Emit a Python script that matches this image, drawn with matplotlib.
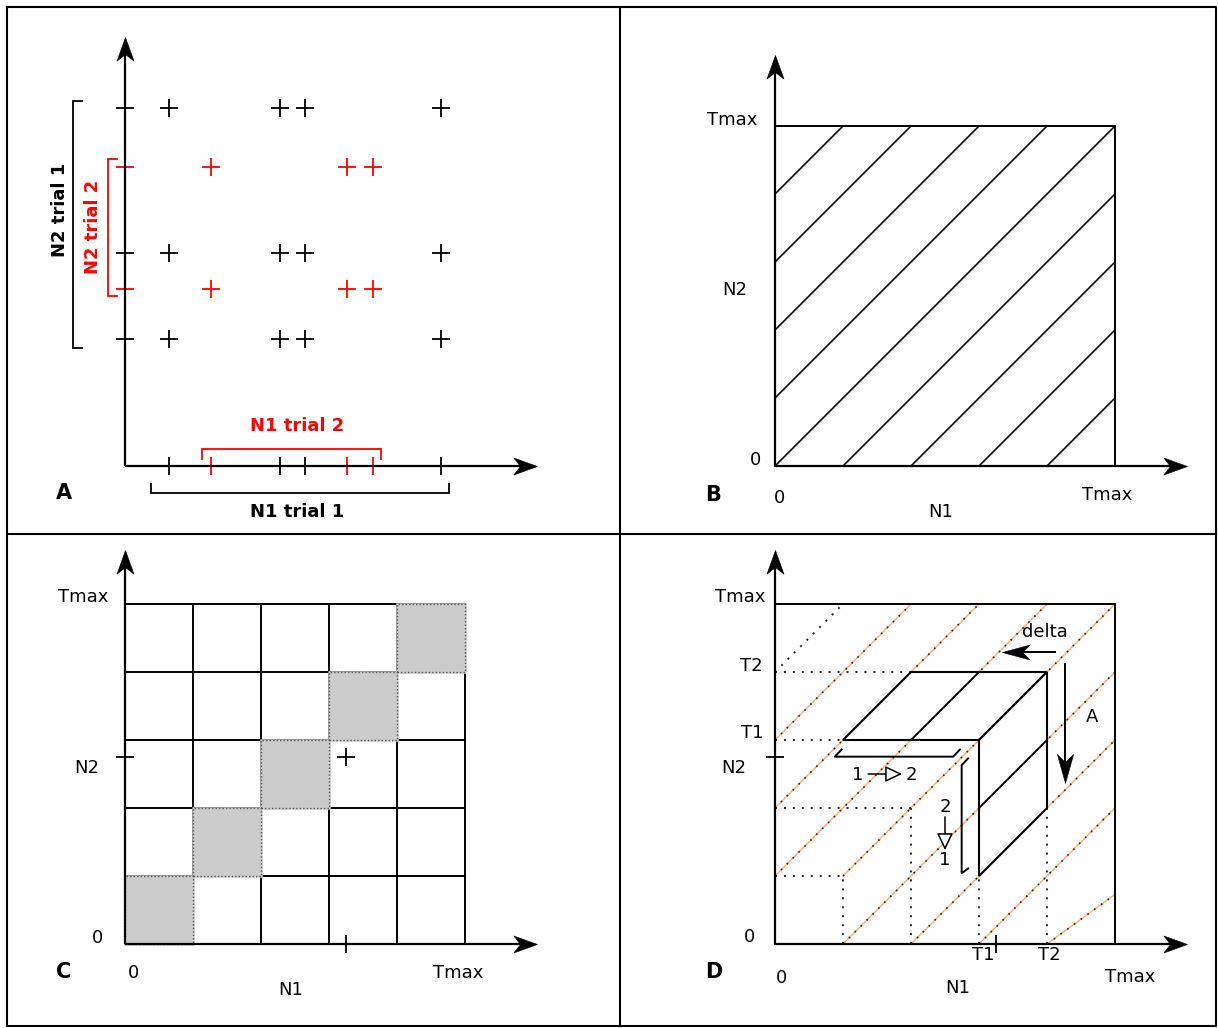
import numpy as np
import matplotlib
matplotlib.use("Agg")
import matplotlib.pyplot as plt
from matplotlib.path import Path
from matplotlib.markers import MarkerStyle
from matplotlib.transforms import Affine2D
from matplotlib.patches import Polygon, Rectangle
from matplotlib.lines import Line2D

plt.rcParams['font.family'] = ['DejaVu Sans']
plt.rcParams['font.size'] = 13

# ---------------- data ----------------
tmax = 5
bin_edges = [0, 1, 2, 3, 4, 5]

# panel A: two trials of spike times for N1 (columns) and N2 (rows)
trial1_n1 = [0.64, 2.28, 2.64, 4.65]
trial1_n2 = [1.87, 3.13, 5.26]
trial2_n1 = [1.27, 3.26, 3.64]
trial2_n2 = [2.61, 4.40]
# brackets: (start, end) span of each trial window
n2_trial1_span = (1.74, 5.37)
n2_trial2_span = (2.50, 4.51)
n1_trial1_span = (0.38, 4.77)
n1_trial2_span = (1.13, 3.76)

# panel B: diagonal offsets of the hatched lines
diag_offsets = [-4, -3, -2, -1, 0, 1, 2, 3, 4]

# panel C: diagonal bins highlighted, and the example spike pair
gray_bins = [0, 1, 2, 3, 4]
n1_spike = 3.25
n2_spike = 2.75

# panel D
t1, t2 = 3, 4
orange_lines = [((0, 3), (2, 5)), ((0, 2), (3, 5)), ((0, 1), (4, 5)),
                ((1, 1), (5, 5)), ((1, 0), (5, 4)), ((2, 0), (5, 3)),
                ((3, 0), (5, 2)), ((4, 0), (5, 0.73))]
dotted_lines = [((0, 4), (2, 4)), ((0, 3), (1, 3)), ((0, 2), (2, 2)), ((0, 1), (1, 1)),
                ((1, 0), (1, 1)), ((2, 0), (2, 2)), ((3, 0), (3, 1)), ((4, 0), (4, 2)),
                ((0, 4), (1, 5))]
cube_top = [(1, 3), (3, 3), (4, 4), (2, 4)]
cube_right = [(3, 1), (4, 2), (4, 4), (3, 3)]
cube_mid = [((2, 3), (3, 4)), ((3, 2), (4, 3))]
bracket_h = [(0.98, 2.86), (0.88, 2.755), (2.62, 2.755), (2.72, 2.86)]
bracket_v = [(2.84, 2.73), (2.745, 2.63), (2.745, 1.04), (2.84, 1.11)]

# ---------------- layout helpers ----------------
W, H = 1218, 1028
U = 68.0  # pixels per data unit

fig = plt.figure(figsize=(W / 100, H / 100), dpi=100)


def make_panel(x0, y0, x1, y1, ox, oy):
    ax = fig.add_axes([x0 / W, 1 - y1 / H, (x1 - x0) / W, (y1 - y0) / H])
    ax.set_xlim((x0 - ox) / U, (x1 - ox) / U)
    ax.set_ylim((oy - y1) / U, (oy - y0) / U)
    ax.set_axis_off()
    return ax


def head_marker(angle, hw):
    p = Path([(0, 0), (-1, hw), (-0.72, 0), (-1, -hw), (0, 0)],
             [Path.MOVETO, Path.LINETO, Path.LINETO, Path.LINETO, Path.CLOSEPOLY])
    return MarkerStyle(p, transform=Affine2D().rotate_deg(angle))


def arrow(ax, x0, y0, x1, y1, lw=1.6, ms=34, hw=0.36):
    ang = np.degrees(np.arctan2(y1 - y0, x1 - x0))
    head_len = 0.5 * ms / 72 * 100 / U
    d = np.hypot(x1 - x0, y1 - y0)
    back = 0.6 * head_len
    ex = x1 - (x1 - x0) / d * back
    ey = y1 - (y1 - y0) / d * back
    ax.plot([x0, ex], [y0, ey], color='black', lw=lw, solid_capstyle='butt', zorder=5)
    ax.plot([x1], [y1], marker=head_marker(ang, hw), ms=ms, color='black',
            mec='black', mew=0.4, zorder=5)


def draw_axes(ax, xtip, ytip):
    arrow(ax, 0, 0, xtip, 0)
    arrow(ax, 0, 0, 0, ytip)


def open_arrow(ax, x0, y0, x1, y1):
    ax.annotate('', xy=(x1, y1), xytext=(x0, y0),
                arrowprops=dict(arrowstyle='-|>,head_length=0.8,head_width=0.38',
                                fc='white', ec='black', lw=1.1,
                                shrinkA=0, shrinkB=0), zorder=6)


# ---------------- frame ----------------
frame_kw = dict(color='black', lw=1.5, transform=fig.transFigure)
fx0, fx1, fy0, fy1 = 6.5 / W, 1215.5 / W, 1 - 6.5 / H, 1 - 1025.5 / H
fig.add_artist(Line2D([fx0, fx1, fx1, fx0, fx0], [fy0, fy0, fy1, fy1, fy0], **frame_kw))
fig.add_artist(Line2D([620 / W, 620 / W], [fy0, fy1], **frame_kw))
fig.add_artist(Line2D([fx0, fx1], [1 - 534 / H, 1 - 534 / H], **frame_kw))

# ---------------- panel A ----------------
axA = make_panel(8, 8, 618, 532, 125, 466)
draw_axes(axA, 6.06, 6.31)
plus_kw = dict(ls='none', marker='+', ms=12.5, mew=1.3)
tick_kw = dict(ls='none', ms=12.5, mew=1.3)
for cols, rows, col in [(trial1_n1, trial1_n2, 'black'), (trial2_n1, trial2_n2, 'red')]:
    xx, yy = np.meshgrid(cols, rows)
    axA.plot(xx.ravel(), yy.ravel(), color=col, **plus_kw)
    axA.plot(np.zeros(len(rows)), rows, marker='_', color=col, **tick_kw)
    axA.plot(cols, np.zeros(len(cols)), marker='|', color=col, **tick_kw)

br_kw = dict(lw=1.3, solid_joinstyle='miter')
a, b = n2_trial1_span
axA.plot([-0.63, -0.765, -0.765, -0.63], [a, a, b, b], color='black', **br_kw)
a, b = n2_trial2_span
axA.plot([-0.12, -0.25, -0.25, -0.12], [a, a, b, b], color='red', **br_kw)
a, b = n1_trial1_span
axA.plot([a, a, b, b], [-0.27, -0.39, -0.39, -0.27], color='black', **br_kw)
a, b = n1_trial2_span
axA.plot([a, a, b, b], [0.11, 0.245, 0.245, 0.11], color='red', **br_kw)

lab_kw = dict(ha='center', va='center', fontweight='bold', fontsize=13)
axA.text(-0.96, 3.76, 'N2 trial 1', rotation=90, color='black', **lab_kw)
axA.text(-0.47, 3.51, 'N2 trial 2', rotation=90, color='red', **lab_kw)
axA.text(2.53, -0.68, 'N1 trial 1', color='black', **lab_kw)
axA.text(2.53, 0.59, 'N1 trial 2', color='red', **lab_kw)
axA.text(-0.90, -0.40, 'A', ha='center', va='center', fontweight='bold', fontsize=15)

# ---------------- panel B ----------------
axB = make_panel(622, 8, 1214, 532, 775, 466)
draw_axes(axB, 6.06, 6.04)
axB.add_patch(Rectangle((0, 0), tmax, tmax, fill=False, ec='black', lw=1.4))
for c in diag_offsets:
    xs = [max(0, -c), min(tmax, tmax - c)]
    axB.plot(xs, [x + c for x in xs], color='black', lw=1.2)
txt = dict(ha='center', va='center')
axB.text(-0.63, 5.09, 'Tmax', **txt)
axB.text(-0.59, 2.59, 'N2', **txt)
axB.text(-0.29, 0.09, '0', **txt)
axB.text(0.07, -0.47, '0', **txt)
axB.text(4.88, -0.43, 'Tmax', **txt)
axB.text(2.43, -0.68, 'N1', **txt)
axB.text(-0.91, -0.43, 'B', fontweight='bold', fontsize=15, **txt)

# ---------------- panel C ----------------
axC = make_panel(8, 536, 618, 1024, 125, 944)
for v in bin_edges:
    axC.plot([v, v], [0, tmax], color='black', lw=1.4, zorder=1)
    axC.plot([0, tmax], [v, v], color='black', lw=1.4, zorder=1)
for i in gray_bins:
    axC.add_patch(Rectangle((bin_edges[i], bin_edges[i]), 1, 1, fc='#cccccc',
                            ec='#cccccc', lw=1.8, zorder=2))
    axC.add_patch(Rectangle((bin_edges[i], bin_edges[i]), 1, 1, fill=False,
                            ec='#555555', lw=1.0, ls=(0, (1, 1.5)), zorder=3))
draw_axes(axC, 6.06, 5.80)
axC.plot([n1_spike], [n2_spike], color='black', **plus_kw)
axC.plot([0], [n2_spike], marker='_', color='black', **tick_kw)
axC.plot([n1_spike], [0], marker='|', color='black', **tick_kw)
axC.text(-0.62, 5.10, 'Tmax', **txt)
axC.text(-0.56, 2.59, 'N2', **txt)
axC.text(-0.41, 0.09, '0', **txt)
axC.text(0.12, -0.43, '0', **txt)
axC.text(4.90, -0.43, 'Tmax', **txt)
axC.text(2.44, -0.68, 'N1', **txt)
axC.text(-0.90, -0.41, 'C', fontweight='bold', fontsize=15, **txt)

# ---------------- panel D ----------------
axD = make_panel(622, 536, 1214, 1024, 775, 944)
axD.add_patch(Rectangle((0, 0), tmax, tmax, fill=False, ec='black', lw=1.4, zorder=2))
for (x0, y0), (x1, y1) in orange_lines:
    axD.plot([x0, x1], [y0, y1], color='#ffaa70', lw=1.0, zorder=1)
    axD.plot([x0, x1], [y0, y1], color='#222222', lw=1.2, ls=(0, (1, 4.0)), zorder=1)
for (x0, y0), (x1, y1) in dotted_lines:
    axD.plot([x0, x1], [y0, y1], color='#222222', lw=1.4, ls=(0, (1, 3.6)), zorder=1)
for face in (cube_top, cube_right):
    axD.add_patch(Polygon(face, closed=True, fc='white', ec='black', lw=1.5, zorder=3))
for (x0, y0), (x1, y1) in cube_mid:
    axD.plot([x0, x1], [y0, y1], color='black', lw=1.4, zorder=4)
for br in (bracket_h, bracket_v):
    bx, by = zip(*br)
    axD.plot(bx, by, color='black', lw=1.4, zorder=4)
draw_axes(axD, 6.06, 5.80)
axD.plot([n1_spike], [n2_spike], color='black', **plus_kw)
axD.plot([0], [n2_spike], marker='_', color='black', **tick_kw)
axD.plot([n1_spike], [0], marker='|', color='black', **tick_kw)

# direction arrows
arrow(axD, 4.13, 4.29, 3.34, 4.29, lw=1.4, ms=40, hw=0.27)
arrow(axD, 4.27, 4.13, 4.27, 2.37, lw=1.4, ms=42, hw=0.28)
open_arrow(axD, 1.37, 2.50, 1.87, 2.50)
open_arrow(axD, 2.50, 1.87, 2.50, 1.38)
axD.text(1.21, 2.49, '1', **txt)
axD.text(2.01, 2.49, '2', **txt)
axD.text(2.50, 2.01, '2', **txt)
axD.text(2.50, 1.24, '1', **txt)
axD.text(3.97, 4.59, 'delta', **txt)
axD.text(4.66, 3.34, 'A', **txt)

axD.text(-0.51, 5.10, 'Tmax', **txt)
axD.text(-0.35, 4.09, 'T2', **txt)
axD.text(-0.34, 3.10, 'T1', **txt)
axD.text(-0.60, 2.59, 'N2', **txt)
axD.text(-0.38, 0.10, '0', **txt)
axD.text(0.10, -0.50, '0', **txt)
axD.text(3.06, -0.16, 'T1', **txt)
axD.text(4.03, -0.16, 'T2', **txt)
axD.text(5.22, -0.49, 'Tmax', **txt)
axD.text(2.68, -0.65, 'N1', **txt)
axD.text(-0.90, -0.41, 'D', fontweight='bold', fontsize=15, **txt)

fig.savefig('out.png', dpi=100)
